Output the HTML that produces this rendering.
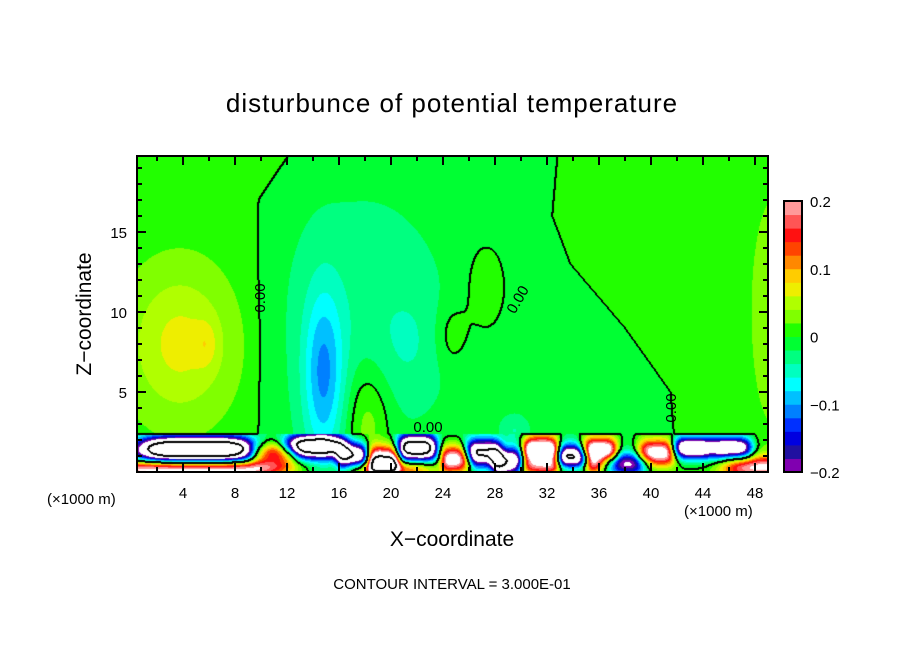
<!DOCTYPE html>
<html><head><meta charset="utf-8">
<style>
body{margin:0;background:#fff;width:904px;height:654px;overflow:hidden;position:relative;font-family:"Liberation Sans",sans-serif}
.t{position:absolute;white-space:nowrap;color:#000}
canvas{position:absolute;left:137px;top:156px}
svg{position:absolute;left:0;top:0}
</style></head><body>
<div class="t" style="left:0;width:904px;text-align:center;top:88px;font-size:26px;letter-spacing:1px">disturbunce of potential temperature</div>
<canvas id="cv" width="631" height="316"></canvas>
<svg id="sv" width="904" height="654"></svg>
<div class="t" style="left:85px;top:314px;transform:translate(-50%,-50%) rotate(-90deg);font-size:21px">Z−coordinate</div>
<div class="t" style="left:0;width:904px;text-align:center;top:528px;font-size:21px">X−coordinate</div>
<div class="t" style="left:47px;top:491px;font-size:15px">(×1000 m)</div>
<div class="t" style="left:684px;top:503px;font-size:15px">(×1000 m)</div>
<div class="t" style="left:0;width:904px;text-align:center;top:576px;font-size:15px">CONTOUR INTERVAL = 3.000E-01</div>
<script>
const xTicks=[4,8,12,16,20,24,28,32,36,40,44,48];
const zTicks=[5,10,15];
const cbTicks=[0.2,0.1,0,-0.1,-0.2];
const cbLabels=['0.2','0.1','0','−0.1','−0.2'];
const bandColors=['#8000b0','#2010a0','#0000e0','#0030ff','#0080ff','#00c0ff','#00ffff','#00ffc0','#00ff80','#00ff33','#22ff00','#80ff00','#b0ff00','#eeee00','#ffcc00','#ff8800','#ff4400','#ff1111','#ff5555','#ff9999'];
const leftBZ=[0,17,19.75];
const leftBX=[9.8,9.9,12.2];
const rightBZ=[0,5,9,13,16,19.75];
const rightBX=[42,41.5,38,33.8,32.4,32.8];
const baseVal=0.01;
const zoneAmp=-0.02;
// anomaly blobs: x(km), z(km), sx, sz, amplitude
const blobX=[18,14.8,21.5,3.8,5.8,49.5,24.6,27.2,18.2,29.5];
const blobZ=[10,6,8,8,8,10,8.5,11.5,3,2.6];
const blobSX=[4.5,1.1,1.8,2.8,0.6,1.5,0.9,1.4,1.2,0.8];
const blobSZ=[5.5,3.8,2.5,3.2,1,6,1.4,2.5,2.6,0.7];
const blobAmp=[-0.022,-0.085,-0.018,0.058,0.025,0.02,0.025,0.02,0.045,-0.03];
const gX=[5,5,11,14,17,19.5,22,25,27,29,31.5,34,36,38,40.5,43,46,49,20,33];
const gZ=[1.4,0.2,1.2,1.6,1,0.7,1.5,0.8,1.2,0.6,1.4,0.8,1.3,0.5,1.2,1.5,1.5,0.3,0.2,0.3];
const gSX=[4,6,1.5,2,1,1,1.3,1,1.2,1,1.2,1,1.2,1.5,1.3,1.2,1.5,3,3,3];
const gSZ=[0.6,0.4,0.5,0.5,0.6,0.6,0.6,0.6,0.6,0.6,0.6,0.6,0.6,0.5,0.6,0.5,0.5,0.5,0.4,0.4];
const gAmp=[-0.45,0.25,0.2,-0.35,-0.3,0.3,-0.35,0.25,-0.3,-0.3,0.3,-0.35,0.3,-0.2,0.25,-0.3,-0.3,0.2,0.15,0.15];
const X0=0.46,X1=49.0,Z0=0,Z1=19.75;
const PL=137,PT=156,PW=631,PH=316;
function sx(x){return PL+(x-X0)/(X1-X0)*PW;}
function sz(z){return PT+PH-(z-Z0)/(Z1-Z0)*PH;}
function interp(zs,xs,z){for(let i=0;i<zs.length-1;i++){if(z<=zs[i+1]){const t=(z-zs[i])/(zs[i+1]-zs[i]);return xs[i]+t*(xs[i+1]-xs[i]);}}return xs[xs.length-1];}
function S(d){return 1/(1+Math.exp(-d/0.25));}
function field(x,z){
  let f=baseVal+zoneAmp*S(x-interp(leftBZ,leftBX,z))*S(interp(rightBZ,rightBX,z)-x);
  for(let i=0;i<blobX.length;i++){const dx=(x-blobX[i])/blobSX[i],dz=(z-blobZ[i])/blobSZ[i];f+=blobAmp[i]*Math.exp(-0.5*(dx*dx+dz*dz));}
  if(z<2.35){for(let i=0;i<gX.length;i++){const dx=(x-gX[i])/gSX[i],dz=(z-gZ[i])/gSZ[i];f+=gAmp[i]*Math.exp(-0.5*(dx*dx*dx*dx+dz*dz));}}
  return f;
}
function color(f){const k=Math.floor((f+0.2)/0.02);if(k<0||k>19)return[255,255,255];const c=bandColors[k];return[parseInt(c.substr(1,2),16),parseInt(c.substr(3,2),16),parseInt(c.substr(5,2),16)];}
const cv=document.getElementById('cv'),ctx=cv.getContext('2d');
const img=ctx.createImageData(PW,PH);
const F=new Float32Array(PW*PH);
for(let j=0;j<PH;j++)for(let i=0;i<PW;i++){
  const x=X0+(i+0.5)/PW*(X1-X0),z=Z1-(j+0.5)/PH*(Z1-Z0);F[j*PW+i]=field(x,z);}
function lev(f){return f<-0.3?-1:(f<0?0:(f<0.3?1:2));}
for(let j=0;j<PH;j++)for(let i=0;i<PW;i++){
  const f=F[j*PW+i];let c=color(f);
  const l=lev(f);let edge=false;
  for(const [di,dj] of [[1,0],[0,1],[1,1],[-1,0],[0,-1]]){const ii=i+di,jj=j+dj;if(ii>=0&&jj>=0&&ii<PW&&jj<PH&&lev(F[jj*PW+ii])!==l)edge=true;}
  if(edge)c=[0,0,0];
  const p=(j*PW+i)*4;img.data[p]=c[0];img.data[p+1]=c[1];img.data[p+2]=c[2];img.data[p+3]=255;}
ctx.putImageData(img,0,0);
const sv=document.getElementById('sv');const NS='http://www.w3.org/2000/svg';
function mk(t,a,txt){const e=document.createElementNS(NS,t);for(const k in a)e.setAttribute(k,a[k]);if(txt!==undefined)e.textContent=txt;sv.appendChild(e);return e;}
const frame=mk('rect',{x:PL,y:PT,width:PW,height:PH,fill:'none',stroke:'#000','stroke-width':2});


for(let v=2;v<=48;v+=2){const X=sx(v),L=(v%4===0)?9:5;
  mk('line',{x1:X,y1:PT+PH,x2:X,y2:PT+PH-L,stroke:'#000','stroke-width':2});
  mk('line',{x1:X,y1:PT,x2:X,y2:PT+L,stroke:'#000','stroke-width':2});}
xTicks.forEach(v=>{const t=mk('text',{x:sx(v),y:498,'text-anchor':'middle','font-size':15,'font-family':'Liberation Sans'},String(v));
  
  });
for(let v=1;v<=19;v++){const Y=sz(v),L=(v%5===0)?9:5;
  mk('line',{x1:PL,y1:Y,x2:PL+L,y2:Y,stroke:'#000','stroke-width':2});
  mk('line',{x1:PL+PW,y1:Y,x2:PL+PW-L,y2:Y,stroke:'#000','stroke-width':2});}
zTicks.forEach(v=>{const t=mk('text',{x:127,y:sz(v)+6,'text-anchor':'end','font-size':15,'font-family':'Liberation Sans'},String(v));
  
  });
const CBX=784,CBT=201,CBB=472,CBW=18;
function cy(v){return CBB-(v+0.2)/0.4*(CBB-CBT);}
bandColors.forEach((c,k)=>{const v0=-0.2+k*0.02;const r=mk('rect',{x:CBX,y:cy(v0+0.02),width:CBW,height:cy(v0)-cy(v0+0.02)+0.5,fill:c});
  
  });
const cbf=mk('rect',{x:CBX,y:CBT,width:CBW,height:CBB-CBT,fill:'none',stroke:'#000','stroke-width':2});


cbTicks.forEach((v,i)=>{const t=mk('text',{x:810,y:cy(v)+6,'font-size':15,'font-family':'Liberation Sans'},cbLabels[i]);
  
  });
[[265,298,-90,'0.00'],[428,432,0,'0.00'],[522,302,-60,'0.00'],[676,408,-90,'0.00']].forEach(a=>{
  const t=mk('text',{x:a[0],y:a[1],'font-size':15,'font-family':'Liberation Sans',transform:`rotate(${a[2]} ${a[0]} ${a[1]})`,'text-anchor':'middle'},a[3]);
  
  });
</script>
</body></html>
